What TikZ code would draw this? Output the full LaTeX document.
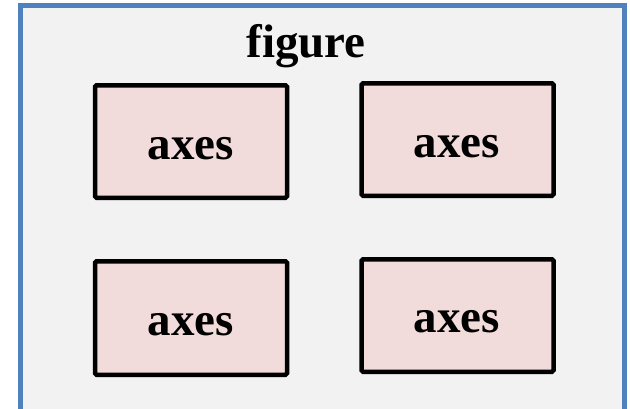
\documentclass[tikz,border=0pt]{standalone}
\usepackage{fontspec}
\setmainfont{Liberation Serif}
\definecolor{frameblue}{HTML}{4F81BD}
\definecolor{framefill}{HTML}{F2F2F2}
\definecolor{axfill}{HTML}{F2DCDB}
\begin{document}
\begin{tikzpicture}[x=1pt,y=-1pt,
  axbox/.style={draw=black,line width=4.5pt,fill=axfill,rounded corners=1.5pt,
    minimum width=192pt,minimum height=112.5pt,inner sep=0pt},
  lbl/.style={font=\fontsize{47}{56}\selectfont\bfseries,inner sep=0pt,anchor=base}]
\useasboundingbox (0,0) rectangle (630,408);
\clip (0,0) rectangle (630,408);
\fill[white] (0,0) rectangle (630,408);
\draw[draw=frameblue,fill=framefill,line width=5pt] (20.5,5.5) rectangle (624.5,430);
\node[lbl] (fig) at (306,57) {figure};
\node[axbox] (a1) at (191,141.5) {};
\node[axbox] (a2) at (457.5,139.5) {};
\node[axbox,minimum height=113.5pt] (a3) at (191,318) {};
\node[axbox] (a4) at (457.5,315.5) {};
\node[lbl] (t1) at (191,159) {axes};
\node[lbl] (t2) at (457,157) {axes};
\node[lbl] (t3) at (191,335) {axes};
\node[lbl] (t4) at (457,332) {axes};
\end{tikzpicture}
\end{document}
